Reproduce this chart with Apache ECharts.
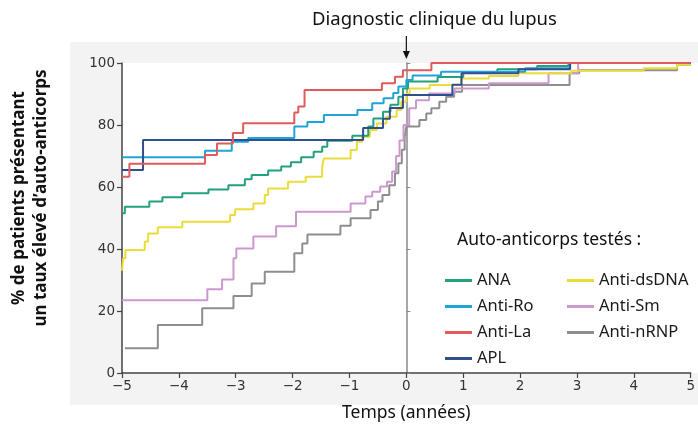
<!DOCTYPE html>
<html>
<head>
<meta charset="utf-8">
<script src="https://cdn.jsdelivr.net/npm/echarts@6/dist/echarts.min.js"></script>
<style>
html, body { margin: 0; padding: 0; background: #fff; }
#chart { width: 698px; height: 430px; }
</style>
</head>
<body>
<div id="chart"></div>
<script>
// [time (years), % of patients] — value holds from that time on (step)
var ana = [[-5, 51.5], [-4.95, 53.6], [-4.52, 55.3], [-4.29, 56.7], [-3.94, 58], [-3.48, 59.2], [-3.13, 60.6],
  [-2.84, 62.5], [-2.72, 63.9], [-2.43, 65.3], [-2.2, 66.6], [-2.03, 68], [-1.85, 69.6], [-1.63, 71.4],
  [-1.48, 73], [-1.39, 74.9], [-0.95, 76.5], [-0.67, 79.5], [-0.58, 82.1], [-0.41, 84.3], [-0.28, 86.5],
  [-0.14, 89.1], [-0.06, 91.8], [0.03, 94], [0.55, 95.5], [1.0, 97], [1.6, 98], [2.3, 99], [2.85, 100], [5, 100]];
var antiRo = [[-5, 69.6], [-3.54, 71.7], [-3.07, 74.6], [-2.78, 75.8], [-1.97, 79.5], [-1.74, 81], [-1.45, 83.2],
  [-0.86, 84.8], [-0.6, 87], [-0.4, 88.6], [-0.23, 90.3], [-0.14, 92.4], [0, 94.5], [0.11, 96], [0.61, 97.2],
  [2.09, 98.3], [2.87, 100], [5, 100]];
var antiLa = [[-5, 63.3], [-4.87, 67.5], [-3.54, 70.3], [-3.33, 74], [-3.05, 77.4], [-2.87, 80.6], [-1.97, 84],
  [-1.9, 86], [-1.79, 91.3], [-0.43, 93.5], [-0.2, 95.6], [-0.06, 97.7], [0.44, 100], [5, 100]];
var apl = [[-5, 65.5], [-4.63, 75.2], [-0.76, 79], [-0.41, 82], [-0.29, 85.5], [-0.06, 89.7], [0.81, 93],
  [0.97, 96.7], [1.97, 98], [2.88, 100], [5, 100]];
var antiDsDNA = [[-5, 33], [-4.98, 37], [-4.94, 39.7], [-4.6, 42.4], [-4.54, 45], [-4.37, 47], [-3.94, 48.8],
  [-3.1, 51], [-3.01, 52.8], [-2.69, 54.7], [-2.49, 57.4], [-2.43, 59.5], [-2.08, 61.7], [-1.77, 63.3],
  [-1.48, 66.6], [-1.45, 69.2], [-0.98, 71.9], [-0.87, 74.6], [-0.78, 76.2], [-0.64, 78.4], [-0.52, 80.5],
  [-0.35, 82.7], [-0.17, 84.8], [-0.09, 87.5], [0, 90.2], [0.06, 91.8], [0.41, 92.9], [0.96, 95],
  [1.45, 95.8], [1.97, 96.7], [2.9, 97.5], [4.17, 98.3], [4.76, 99.4], [5, 99.4]];
var antiSm = [[-5, 23.5], [-3.5, 27], [-3.24, 30.2], [-3.04, 37], [-2.99, 40.2], [-2.69, 44], [-2.29, 47.3],
  [-1.94, 52], [-0.98, 54.7], [-0.72, 56.9], [-0.6, 58.5], [-0.46, 60.2], [-0.34, 61.7], [-0.25, 65],
  [-0.18, 70], [-0.12, 75], [-0.05, 80], [0.05, 85.4], [0.17, 88], [0.4, 90.2], [0.85, 91.8], [1.45, 93.5],
  [2.5, 96.7], [3.02, 100], [5, 100]];
var antiNRNP = [[-4.95, 8], [-4.37, 15.5], [-3.59, 20.9], [-3.04, 24.8], [-2.72, 28.9], [-2.49, 32.7],
  [-1.97, 38.6], [-1.83, 41.8], [-1.74, 44.7], [-1.16, 47.5], [-0.98, 49.9], [-0.63, 52.6], [-0.5, 55.3],
  [-0.42, 57.4], [-0.3, 60.6], [-0.2, 64.4], [-0.14, 67.7], [-0.08, 72], [-0.03, 76], [0, 79.5], [0.23, 81.6],
  [0.35, 83.7], [0.44, 85.4], [0.58, 87.5], [0.7, 89.1], [0.84, 90.7], [0.98, 92.9], [2.87, 96.7],
  [3.04, 97.7], [4.76, 99.4], [5, 99.4]];

var names = ["ANA", "Anti-Ro", "Anti-La", "APL", "Anti-dsDNA", "Anti-Sm", "Anti-nRNP"];
var colors = ["#25a07c", "#1ea4d8", "#e25a5c", "#2f4f8f", "#ecdc3a", "#cc98cf", "#8e8e8e"];
var seriesData = [ana, antiRo, antiLa, apl, antiDsDNA, antiSm, antiNRNP];
var xTicks = [-5, 5, 1];
var yTicks = [0, 100, 20];

var font = "Noto Sans";
var chart = echarts.init(document.getElementById("chart"));

// draw order: grey/purple at the back, red on top
var drawZ = [4, 5, 7, 6, 3, 2, 1];
var series = names.map(function (n, i) {
  return {
    name: n,
    type: "line",
    step: "end",
    data: seriesData[i],
    showSymbol: false,
    symbol: "none",
    z: drawZ[i],
    lineStyle: { color: colors[i], width: 2 },
    itemStyle: { color: colors[i] },
    emphasis: { disabled: true }
  };
});

var legendText = { color: "#1a1a1a", fontSize: 16.5, fontFamily: font, lineHeight: 16 };

var option = {
  animation: false,
  backgroundColor: "#fff",
  title: {
    text: "Diagnostic clinique du lupus",
    left: 307,
    top: 5,
    textStyle: { color: "#111", fontSize: 18.5, fontWeight: "normal", fontFamily: font }
  },
  grid: {
    left: 119, right: 4, top: 63, bottom: 57,
    show: true, backgroundColor: "#fff", borderWidth: 0
  },
  legend: [
    {
      data: names.slice(0, 4),
      orient: "vertical",
      left: 440, top: 267,
      icon: "rect", itemWidth: 27, itemHeight: 3, itemGap: 9,
      textStyle: legendText
    },
    {
      data: names.slice(4),
      orient: "vertical",
      left: 562, top: 267,
      icon: "rect", itemWidth: 27, itemHeight: 3, itemGap: 9,
      textStyle: legendText
    }
  ],
  xAxis: {
    type: "value",
    min: xTicks[0], max: xTicks[1], interval: xTicks[2],
    name: "Temps (années)",
    nameLocation: "middle",
    nameGap: 31,
    nameTextStyle: { color: "#111", fontSize: 17.5, fontFamily: font },
    axisLine: { lineStyle: { color: "#444", width: 1.5 } },
    axisTick: { show: true, length: 5, lineStyle: { color: "#444", width: 1.2 } },
    axisLabel: {
      color: "#333", fontSize: 13.5, fontFamily: "DejaVu Sans", margin: 6,
      formatter: function (v) { return v < 0 ? "\u2212" + Math.abs(v) : String(v); }
    },
    splitLine: { show: false }
  },
  yAxis: [
    {
      type: "value",
      min: yTicks[0], max: yTicks[1], interval: yTicks[2],
      name: "% de patients présentant\nun taux élevé d\u2019auto-anticorps",
      nameLocation: "middle",
      nameRotate: 90,
      nameGap: 70,
      nameTextStyle: { color: "#111", fontSize: 17, fontWeight: "bold", fontFamily: font, lineHeight: 22, padding: [0, 0, 0, 40] },
      axisLine: { onZero: false, lineStyle: { color: "#444", width: 1.5 } },
      axisTick: { show: true, length: 5, lineStyle: { color: "#444", width: 1.2 } },
      axisLabel: { color: "#333", fontSize: 13.5, fontFamily: "DejaVu Sans", margin: 7 },
      splitLine: { show: false }
    },
    {
      // diagnosis line at t = 0
      type: "value",
      min: yTicks[0], max: yTicks[1], interval: yTicks[2],
      position: "left",
      axisLine: { show: true, onZero: true, lineStyle: { color: "#8a8a8a", width: 1.5 } },
      axisTick: { show: true, inside: true, length: 4, lineStyle: { color: "#8a8a8a" } },
      axisLabel: { show: false },
      splitLine: { show: false }
    }
  ],
  series: series
};
chart.setOption(option);

// grey panel, legend heading and the arrow pointing at the diagnosis
var x0 = chart.convertToPixel({ xAxisIndex: 0 }, 0);
chart.setOption({
  graphic: [
    { type: "rect", z: -10, silent: true, shape: { x: 70, y: 42, width: 628, height: 363 }, style: { fill: "#f3f3f3" } },
    { type: "rect", z: -9, silent: true, shape: { x: 690, y: 63, width: 8, height: 310 }, style: { fill: "#fff" } },
    { type: "text", left: 457, top: 231, style: { text: "Auto-anticorps testés :", fill: "#111", fontSize: 17.5, fontFamily: font } },
    { type: "line", z: 10, shape: { x1: x0, y1: 36, x2: x0, y2: 52 }, style: { stroke: "#111", lineWidth: 1.2 } },
    { type: "polygon", z: 10, shape: { points: [[x0 - 3.5, 51], [x0 + 3.5, 51], [x0, 59]] }, style: { fill: "#111" } }
  ]
});
</script>
</body>
</html>
